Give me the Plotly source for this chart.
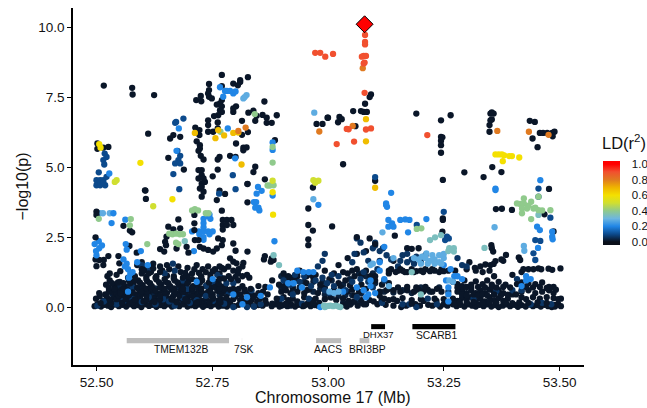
import plotly.graph_objects as go

# Regional association values: (position as read in Mb, -log10 p)
lead_pos = [53.087]
lead_logp = [10.10]

# The positions below were read against a first estimate of the tick spacing;
# these two constants carry them onto the ticks as measured afterwards.
READ_SCALE = 0.9883
READ_SHIFT = -0.0013

r2_levels = {"black": 0.012, "ink": 0.03, "deep": 0.065, "navy": 0.1, "blue": 0.2, "sky": 0.28, "teal": 0.34, "green": 0.4,
             "lime": 0.5, "yellow": 0.6, "amber": 0.68, "orange": 0.8, "red": 0.9}

navy_low = [(52.503,0.05),(52.517,0.2),(52.545,0.1),(52.56,0.22),(52.58,0.3),(52.6,0.18),(52.615,0.35),(52.63,0.1),(52.647,0.28),(52.66,0.2),(52.672,0.05),(52.69,0.33),(52.705,0.15),(52.72,0.25),(52.74,0.4),(52.755,0.22),(52.78,0.12),(52.8,0.0),(52.83,0.0),(52.845,0.02),(52.86,0.1),(52.905,0.3),(52.93,0.45),(52.95,0.12),(52.965,0.3),
(52.57,1.05),(52.58,0.7),(52.6,1.5),(52.615,1.35),(52.65,1.2),(52.668,1.55),(52.672,1.3),(52.69,0.95),(52.7,0.65),(52.72,0.95),(52.74,0.75),(52.755,0.9),(52.765,1.15),(52.773,1.05),(52.785,0.85),(52.79,0.5),(52.8,0.85),(52.84,0.6),
(52.91,0.95),(52.925,0.8),(52.935,1.15),(52.945,0.9),(52.955,1.1),(52.97,0.75),(52.98,0.95),(52.995,1.05),(53.005,0.85),(53.015,1.15),(52.985,1.45),(52.995,1.65),(53.0,1.9),(53.01,0.5),(53.0,0.6),(53.02,0.75),(53.03,1.1),(53.045,0.6),(53.06,0.9),(53.07,0.35),(53.078,1.0),(53.085,1.25),(53.095,0.9),(53.105,0.7),(53.115,1.35),(53.13,0.95),(53.06,1.6),(53.065,1.9),(53.07,2.45),(53.078,2.3),(53.085,1.95),(53.095,1.65),(53.105,2.1),(53.11,2.3),(53.11,2.2),(53.12,2.0),(53.127,2.1),(53.135,1.85),(53.12,1.65),(53.145,1.7),(53.16,1.45),(53.17,1.85),(53.18,1.9),(53.19,1.7),(53.2,1.8),(53.21,1.6),(53.22,1.85),(53.165,1.65),(53.18,1.6),(53.195,1.55),(53.21,1.75),(53.125,0.15),(53.17,0.1),(53.185,0.1),(53.2,0.0),(53.225,0.3),(53.245,0.1),(53.27,0.55),(53.29,1.75),(53.3,1.5),(53.31,1.45),(53.325,0.3),(53.375,0.55),(53.41,0.6),(53.42,1.0),(53.43,0.6),(53.45,0.1),(53.475,0.15),(53.495,0.1)]

blue_low = [(52.497,2.25),(52.5,2.0),(52.507,2.1),(52.513,2.2),(52.501,1.85),(52.506,2.35),(52.56,1.7),(52.567,1.55),(52.57,1.35),(52.575,1.2),(52.572,1.05),(52.58,1.25),(52.563,1.45),(52.565,2.25),(52.567,2.05),(52.59,1.6),(52.598,2.0),(52.57,0.55),(52.613,1.5),
(52.714,2.0),(52.72,0.9),(52.755,1.0),(52.8,0.45),(52.82,0.1),(52.83,0.35),(52.86,0.4),(52.89,2.35),(52.88,0.7),(52.94,1.3),(52.953,1.25),(52.965,1.25),(52.975,1.25),(52.92,0.85),(52.932,0.85),(52.95,0.7),(52.99,0.0),(53.04,0.55),
(53.07,0.7),(53.085,0.6),(53.09,0.35),(53.1,0.75),(53.095,0.45),(53.1,0.95),(53.11,0.5),(53.13,1.0),(53.12,1.3),(53.13,2.15),(53.12,1.6),(53.27,0.2),(53.265,0.95),(53.27,0.7),(53.27,0.45),(53.275,1.35),(53.283,1.1),(53.29,1.1),(53.3,1.0),(53.43,0.75),(53.44,0.95),(53.45,1.0),(53.44,1.1),(53.26,1.5),
(52.71,2.7),(52.725,2.7),(52.735,2.7),(52.745,2.7),(52.755,2.7),(52.735,2.85),(52.735,3.0),(52.735,3.15),(52.735,2.5),(52.735,2.4),(52.744,3.25),(52.748,3.3),(52.75,3.15),(52.726,2.6),(52.748,2.6)]

sky_low = [(52.508,3.35),(52.515,3.35),(52.53,3.35),(53.195,1.75),(53.205,1.7),(53.212,1.8),(53.22,1.75),(53.23,1.65),(53.24,1.7),(53.25,1.6),(53.26,1.75),(53.21,1.55),(53.225,1.55),(53.24,1.55),(53.255,1.55),(53.235,1.85),(53.25,1.85),(53.222,1.92),(53.26,1.9),(53.15,1.75),(53.14,0.75),(53.01,0.55),(53.02,0.5),(53.03,0.55),(53.272,0.95),(53.28,0.9),(53.1,1.5),(53.105,1.55)]

teal_low = [(53.0,0.0),(52.998,0.05),(53.002,0.02),(53.007,0.04),(53.012,0.05),(53.018,0.03),(53.024,0.05),(53.03,0.02),(53.034,0.0),(53.21,0.45),(53.19,1.25),(52.694,2.35),(52.888,1.85),(52.9,1.5),(53.27,2.0),(53.272,2.1)]

ink_fill = [(52.512,0.12),(52.522,0.18),(52.545,0.2),(52.568,0.12),(52.592,0.14),(52.616,0.13),(52.64,0.14),(52.652,0.2),(52.664,0.12),(52.688,0.14),(52.712,0.13),(52.736,0.12),(52.76,0.14),(52.784,0.13),
(52.537,0.45),(52.56,0.47),(52.59,0.4),(52.625,0.45),(52.652,0.42),(52.67,0.44),(52.7,0.45),(52.727,0.43),(52.74,0.47),(52.77,0.42),
(52.55,0.7),(52.57,0.72),(52.6,0.7),(52.63,0.67),(52.66,0.72),(52.68,0.7),(52.72,0.7),(52.75,0.68),(52.78,0.72),
(52.905,0.05),(52.925,0.05),(52.94,0.14),(52.965,0.14),(52.985,0.05),(53.04,0.15),(53.06,0.16),(53.075,0.15),
(52.905,0.7),(52.915,0.75),(52.93,0.65),(52.945,0.7),(52.96,0.6),(52.975,0.55),(52.99,0.65),(53.0,0.45),(53.015,0.35),(53.03,0.4),(53.045,0.42),(53.06,0.42),(53.08,0.48),(53.04,0.8),(53.055,1.0),(53.015,0.95),(52.995,0.9),(52.975,0.9),(52.955,0.9),(52.935,0.95),(52.915,1.05),(52.905,1.1),(53.09,1.1),(53.075,1.2),(53.105,1.2),(53.11,0.85),
(53.13,0.55),(53.15,0.52),(53.17,0.6),(53.19,0.5),(53.21,0.7),(53.23,0.55),(53.25,0.7)]

black_fill = [(52.51,0.14),(52.533,0.14),(52.557,0.15),(52.58,0.18),(52.604,0.2),(52.628,0.18),(52.676,0.17),(52.7,0.2),(52.724,0.18),(52.748,0.17),(52.772,0.16),
(52.53,0.27),(52.545,0.28),(52.565,0.28),(52.585,0.27),(52.61,0.28),(52.64,0.28),(52.665,0.27),(52.695,0.28),(52.72,0.16),(52.755,0.3),(52.785,0.35),(52.805,0.38),(52.82,0.32),(52.835,0.32),(52.845,0.35),(52.858,0.3),(52.87,0.25),(52.885,0.12),(52.895,0.3),
(52.523,0.42),(52.55,0.4),(52.572,0.42),(52.6,0.47),(52.61,0.42),(52.64,0.4),(52.682,0.4),(52.71,0.4),(52.752,0.4),
(52.528,0.55),(52.542,0.62),(52.553,0.5),(52.568,0.6),(52.58,0.52),(52.6,0.56),(52.612,0.55),(52.63,0.58),(52.65,0.55),(52.672,0.55),(52.69,0.55),(52.71,0.58),(52.73,0.56),(52.75,0.55),(52.77,0.58),(52.78,0.62),(52.793,0.62),(52.8,0.65),(52.812,0.65),(52.825,0.62),(52.838,0.65),
(52.528,0.68),(52.54,0.65),(52.56,0.66),(52.59,0.68),(52.61,0.66),(52.62,0.7),(52.64,0.7),(52.65,0.66),(52.67,0.67),(52.69,0.66),(52.71,0.68),(52.73,0.66),(52.76,0.72),(52.77,0.66),
(52.535,0.85),(52.548,0.88),(52.575,0.85),(52.596,0.87),(52.618,0.85),(52.638,0.88),(52.658,0.85),(52.678,0.88),(52.7,0.85),(52.727,0.87),(52.747,0.88),(52.768,0.85),
(52.56,0.85),(52.585,0.95),(52.61,1.0),(52.63,1.05),(52.65,1.0),(52.67,1.02),(52.69,1.05),(52.71,1.0),(52.73,1.02),(52.75,1.02),(52.77,1.0),(52.78,1.02),(52.795,1.0),(52.805,1.08),(52.6,1.35),(52.605,1.3),(52.615,1.2),(52.625,1.38),(52.64,1.25),(52.66,1.35),(52.695,1.22),(52.715,1.35),(52.725,1.22),(52.755,1.28),(52.8,1.3),(52.812,1.35),(52.82,1.45),(52.77,1.45),
(52.915,0.12),(52.955,0.05),(52.975,0.15),(53.05,0.12),(53.085,0.1),
(53.285,0.12),(53.295,0.18),(53.31,0.15),(53.325,0.18),(53.345,0.15),(53.36,0.18),(53.375,0.15),(53.395,0.17),(53.41,0.14),(53.425,0.17),(53.445,0.15),(53.465,0.17),(53.485,0.15),(53.51,0.1),(53.516,0.03),(53.516,0.3),(53.51,0.28),
(53.3,0.45),(53.31,0.42),(53.325,0.45),(53.335,0.42),(53.345,0.45),(53.355,0.42),(53.37,0.45),(53.385,0.42),(53.4,0.44),(53.29,0.7),(53.3,0.75),(53.31,0.72),(53.32,0.7),(53.335,0.72),(53.35,0.7),(53.365,0.72),(53.375,0.7),(53.39,0.72),(53.405,0.7),(53.418,0.45),(53.42,0.82),(53.44,0.72),(53.455,0.7),(53.47,0.72),(53.485,0.68),(53.505,0.62),
(53.13,0.3),(53.15,0.28),(53.17,0.32),(53.19,0.12),(53.21,0.28),(53.24,0.3),(53.26,0.28),(53.12,0.4),(53.14,0.65),(53.16,0.7),(53.18,0.72),(53.2,0.7),(53.22,0.72),(53.14,1.3),(53.165,1.35),(53.155,1.25),(53.175,1.25),(53.195,1.25),(53.215,1.25),(53.235,1.35),(53.255,1.35)]

black_rows = [
(52.497,0.03),(52.503,0.1),(52.511,0.02),(52.518,0.08),(52.526,0.05),(52.533,0.0),(52.541,0.09),(52.55,0.03),(52.558,0.08),(52.566,0.02),(52.574,0.1),(52.583,0.03),(52.59,0.07),(52.599,0.0),(52.607,0.1),(52.616,0.04),(52.624,0.08),(52.632,0.01),(52.641,0.07),(52.649,0.03),(52.657,0.1),(52.666,0.02),(52.674,0.08),(52.682,0.03),(52.691,0.1),(52.7,0.02),(52.708,0.06),(52.717,0.03),(52.725,0.09),(52.734,0.01),(52.742,0.07),(52.751,0.03),(52.759,0.1),(52.768,0.02),(52.777,0.05),(52.786,0.02),(52.794,0.09),(52.803,0.03),(52.812,0.08),(52.82,0.2),(52.829,0.05),(52.838,0.1),(52.846,0.02),(52.855,0.07),(52.864,0.05),(52.872,0.12),(52.884,0.03),(52.892,0.1),(52.901,0.02),(52.909,0.07),(52.918,0.03),(52.926,0.1),(52.935,0.02),(52.943,0.08),(52.952,0.03),(52.96,0.1),(52.969,0.03),(52.978,0.07),
(52.988,0.15),(53.04,0.07),(53.048,0.02),(53.056,0.09),(53.064,0.2),(53.072,0.05),(53.08,0.25),(53.09,0.1),(53.098,0.25),(53.107,0.2),(53.115,0.1),(53.124,0.22),(53.133,0.08),(53.14,0.25),(53.15,0.05),(53.158,0.22),(53.167,0.0),(53.178,0.05),(53.19,0.25),(53.198,0.1),(53.208,0.05),(53.216,0.22),(53.226,0.08),(53.235,0.05),(53.244,0.22),(53.252,0.02),(53.26,0.1),(53.268,0.05),(53.28,0.1),(53.288,0.03),(53.296,0.08),(53.305,0.02),(53.313,0.1),(53.322,0.05),(53.33,0.02),(53.338,0.08),(53.347,0.03),(53.355,0.1),(53.364,0.02),(53.372,0.07),(53.38,0.0),(53.389,0.05),(53.397,0.1),(53.405,0.03),(53.414,0.08),(53.422,0.01),(53.43,0.07),(53.439,0.02),(53.447,0.09),(53.455,0.03),(53.464,0.07),(53.472,0.02),(53.48,0.08),(53.488,0.03),(53.496,0.0),(53.503,0.08),(53.503,0.02),
(52.5,0.3),(52.508,0.38),(52.516,0.22),(52.524,0.32),(52.532,0.25),(52.54,0.35),(52.548,0.2),(52.556,0.3),(52.564,0.38),(52.572,0.22),(52.58,0.35),(52.588,0.25),(52.596,0.32),(52.604,0.2),(52.612,0.37),(52.62,0.25),(52.628,0.33),(52.636,0.2),(52.644,0.35),(52.652,0.25),(52.66,0.3),(52.668,0.37),(52.676,0.2),(52.684,0.32),(52.692,0.24),(52.7,0.35),(52.708,0.2),(52.716,0.3),(52.724,0.38),(52.732,0.22),(52.74,0.3),(52.748,0.2),(52.756,0.32),(52.764,0.22),(52.772,0.28),(52.78,0.25),(52.79,0.22),(52.8,0.28),(52.815,0.25),(52.828,0.2),(52.84,0.25),(52.852,0.18),(52.9,0.22),(52.91,0.35),(52.92,0.25),(52.93,0.3),(52.94,0.2),(52.955,0.35),(52.97,0.25),(52.98,0.3),(53.0,0.28),(53.012,0.35),(53.025,0.25),(53.04,0.3),(53.052,0.22),(53.065,0.42),(53.28,0.3),(53.29,0.22),(53.3,0.33),(53.31,0.25),(53.32,0.35),(53.33,0.22),(53.34,0.3),(53.35,0.2),(53.36,0.35),(53.37,0.25),(53.38,0.32),(53.39,0.22),(53.4,0.3),(53.43,0.35),(53.44,0.28),(53.455,0.35),(53.47,0.3),(53.485,0.35),(53.5,0.32),
(52.507,0.5),(52.52,0.45),(52.535,0.55),(52.545,0.48),(52.555,0.6),(52.565,0.5),(52.575,0.62),(52.585,0.45),(52.595,0.55),(52.605,0.62),(52.615,0.5),(52.625,0.6),(52.635,0.48),(52.645,0.58),(52.655,0.5),(52.665,0.62),(52.675,0.48),(52.685,0.58),(52.695,0.45),(52.705,0.6),(52.715,0.5),(52.725,0.6),(52.735,0.48),(52.745,0.55),(52.755,0.45),(52.765,0.58),(52.775,0.48),(52.785,0.55),(52.795,0.5),(52.805,0.55),(52.815,0.45),(52.825,0.55),(52.835,0.5),(52.845,0.42),(52.855,0.5),(52.865,0.55),(52.875,0.45),(52.905,0.55),(52.915,0.6),(52.925,0.5),(52.94,0.55),(52.955,0.5),(52.965,0.62),(52.985,0.5),(53.0,0.7),(53.02,0.62),(53.035,0.7),(53.05,0.55),(53.06,0.62),(53.075,0.55),(53.09,0.65),(53.12,0.55),(53.135,0.6),(53.15,0.6),(53.165,0.55),(53.18,0.6),(53.195,0.55),(53.205,0.62),(53.215,0.55),(53.225,0.62),(53.235,0.55),(53.245,0.65),(53.255,0.55),(53.29,0.55),(53.3,0.6),(53.31,0.5),(53.32,0.6),(53.33,0.5),(53.34,0.6),(53.35,0.5),(53.36,0.62),(53.37,0.52),(53.38,0.6),(53.39,0.5),(53.41,0.45),(53.43,0.55),(53.445,0.6),(53.46,0.5),(53.475,0.55),(53.49,0.6),(53.5,0.5),
(52.522,0.8),(52.53,0.95),(52.54,0.75),(52.552,0.9),(52.562,0.75),(52.572,0.95),(52.582,0.8),(52.592,0.95),(52.602,0.78),(52.612,0.92),(52.622,0.75),(52.632,0.98),(52.642,0.8),(52.652,0.9),(52.662,0.75),(52.672,0.95),(52.682,0.8),(52.692,0.78),(52.702,0.92),(52.712,0.75),(52.722,0.8),(52.732,0.95),(52.742,0.78),(52.752,0.72),(52.762,0.9),(52.772,0.75),(52.782,0.7),(52.81,0.95),(52.82,0.75),(52.835,1.05),(52.855,0.75),(52.87,0.72),(52.885,0.95),(52.9,0.8),(52.91,0.75),(52.92,1.0),(52.93,0.72),(52.94,1.1),(52.96,0.85),(52.975,1.05),(52.99,0.8),(53.01,1.0),(53.03,0.85),(53.045,0.95),(53.055,0.78),(53.065,1.1),(53.08,0.8),(53.11,0.95),(53.125,0.8),(53.14,0.85),(53.28,0.9),(53.29,0.82),(53.305,0.95),(53.32,0.8),(53.33,0.92),(53.345,0.82),(53.355,0.95),(53.365,0.8),(53.38,0.9),(53.395,0.8),(53.43,0.88),(53.445,0.85),(53.46,0.82),(53.475,0.88),(53.49,0.72),(53.5,0.72),
(52.525,1.1),(52.53,1.2),(52.545,1.15),(52.553,1.28),(52.585,1.1),(52.6,1.2),(52.61,1.08),(52.62,1.25),(52.632,1.1),(52.645,1.3),(52.655,1.12),(52.67,1.1),(52.685,1.25),(52.7,1.1),(52.71,1.2),(52.73,1.1),(52.74,1.25),(52.75,1.15),(52.76,1.3),(52.77,1.2),(52.78,1.35),(52.79,1.1),(52.81,1.2),(52.82,1.1),(52.83,1.15),(52.91,1.2),(52.92,1.1),(52.93,1.05),(52.945,1.3),(52.96,1.1),(52.97,1.15),(52.98,1.15),(53.0,1.3),(53.02,1.2),(53.03,1.5),(53.04,1.25),(53.05,1.2),(53.06,1.3),(53.07,1.35),(53.08,1.15),(53.09,1.3),(53.1,1.1),(53.11,1.1),(53.14,1.2),(53.145,1.35),(53.16,1.3),(53.17,1.3),(53.18,1.25),(53.19,1.35),(53.2,1.28),(53.21,1.3),(53.22,1.35),(53.23,1.28),(53.24,1.3),(53.25,1.25),(53.26,1.28),(53.27,1.3),(53.285,1.3),(53.31,1.35),(53.33,1.3),(53.345,1.25),(53.36,1.3),(53.37,1.1),(53.41,1.15),(53.43,1.25),
(52.499,1.7),(52.507,1.68),(52.517,1.68),(52.501,1.46),(52.516,1.5),(52.527,1.82),(52.549,1.82),(52.551,1.56),(52.589,1.94),(52.573,2.18),(52.59,1.5),(52.6,1.6),(52.61,1.45),(52.625,1.55),(52.64,1.45),(52.655,1.5),(52.68,1.45),(52.7,1.4),(52.72,1.5),(52.733,1.35),(52.745,1.45),(52.76,1.35),(52.775,1.4),(52.789,1.44),(52.793,1.74),(52.8,1.62),(52.807,1.56),(52.822,1.58),(52.869,1.82),(52.867,1.7),(52.884,1.74),(52.882,1.62),(52.888,1.68),(53.05,1.75),(53.07,1.9),(53.09,2.0),(53.18,2.1),(53.205,2.1),(53.19,2.08),(53.15,1.65),(53.316,1.6),(53.328,1.4),(53.34,1.45),(53.351,1.52),(53.362,1.5),(53.369,1.54),(53.39,1.65),(53.396,1.86),(53.386,1.7),(53.373,1.64),(53.424,1.77),(53.427,1.68),(53.434,1.35),(53.445,1.35),(53.456,1.35),(53.467,1.38),(53.473,1.35),(53.489,1.37),(53.497,1.33),(53.515,1.38),
]

black_upper = [(52.517,7.91),(52.579,7.83),(52.58,7.59),(52.627,7.57),(52.614,6.19),(52.503,5.84),(52.503,5.65),(52.516,5.69),(52.527,5.72),(52.775,8.29),(52.832,8.21),(52.815,8.1),(52.815,8.04),(52.8,7.98),(52.81,7.92),(52.747,7.97),(52.747,7.75),(52.745,7.63),(52.747,7.51),(52.753,7.45),(52.729,7.54),(52.719,7.39),(52.73,7.35),(52.775,7.89),(52.775,7.39),(52.771,7.27),(52.764,7.23),(52.775,7.17),(52.771,7.03),(52.775,6.97),(52.767,6.85),(52.758,6.82),(52.806,7.17),(52.8,7.09),(52.8,6.97),(52.868,7.34),(52.833,6.94),(52.844,7.01),(52.851,6.83),(52.864,6.86),(52.848,6.65),(52.873,6.76),(52.873,6.58),(52.884,6.58),(52.895,6.85),(52.819,6.65),(52.745,6.67),(52.766,6.59),(52.717,6.41),(52.726,6.32),(52.726,6.14),(52.745,6.5),(52.745,6.26),(52.756,6.26),(52.766,6.38),(52.819,6.15),(52.832,6.25),(52.891,5.96),(52.72,5.92),(52.727,5.78),(52.727,5.66),(52.724,5.58),(52.729,5.4),(52.735,5.27),(52.806,5.84),(52.822,5.69),(52.829,5.7),(52.822,5.6),(52.77,5.36),(52.766,5.27),(52.793,5.4),(52.805,5.36),(52.658,5.33),(52.848,5.01),(52.844,4.82),(52.724,4.89),(52.731,4.89),(52.731,4.71),(52.724,4.59),(52.735,4.59),(52.731,4.41),(52.738,4.47),(52.727,4.23),(52.755,4.67),(52.766,4.91),(52.692,4.91),(52.869,4.56),(52.831,4.4),(52.607,4.17),(52.662,6.02),(52.669,6.14),(52.684,6.08),(52.982,6.54),(52.995,6.54),(53.006,6.76),(52.974,4.27),
(53.101,7.59),(53.098,7.5),(53.088,7.26),(53.079,7.0),(53.085,6.97),(53.092,6.97),(53.062,7.0),(53.067,6.46),(53.032,6.79),(53.037,6.71),(53.029,6.6),(53.007,6.76),(53.2,6.91),(53.254,6.67),(53.275,6.85),(53.254,6.08),(53.257,6.06),(53.254,5.94),(53.254,5.78),(53.254,5.51),(53.04,5.1),(53.11,4.51),(53.258,4.54),(53.305,4.81),(53.347,4.64),(53.366,5.0),(53.386,4.82),(53.365,6.95),(53.362,6.91),(53.369,6.91),(53.365,6.7),(53.362,6.67),(53.36,6.5),(53.36,6.26),(53.448,6.65),(53.459,6.61),(53.47,6.22),(53.477,6.22),(53.486,6.22),(53.497,6.22),(53.502,6.26),(53.498,6.1),(53.454,6.02),(53.465,5.71),(53.49,4.22),
(52.608,4.16),(52.609,3.86),(52.731,4.3),(52.735,4.12),(52.731,3.94),(52.764,3.82),(52.77,4.16),(52.782,4.04),(52.831,4.39),(52.831,3.74),(52.964,3.52),(52.501,3.41),(52.501,3.29),(52.775,3.44),(52.715,3.29),(52.715,2.99),(52.715,2.75),(52.68,3.13),(52.56,2.9),(52.574,2.73),(52.579,2.67),(52.658,2.87),(52.669,2.77),(52.684,2.81),(52.654,2.51),(52.651,2.33),(52.653,2.21),(52.64,2.07),(52.649,1.98),(52.716,2.39),(52.724,2.39),(52.777,3.11),(52.786,3.11),(52.796,3.11),(52.777,2.93),(52.786,2.93),(52.8,2.93),(52.777,2.77),(52.767,2.45),(52.777,2.39),(52.775,2.21),(52.727,2.15),(52.735,2.09),(52.745,2.04),(52.756,1.98),(52.764,2.09),(52.8,2.27),(52.805,2.01),(52.831,1.98),(52.964,2.93),(52.964,2.42),(52.964,2.21),(52.974,2.73),(52.499,2.49),(52.698,2.15),(52.676,2.09),(52.702,1.94),(53.016,2.88),(53.153,2.55),(53.258,3.17),(53.258,3.11),(53.257,2.69),(53.374,3.5),(53.387,3.51),(53.409,3.47),(53.48,3.31),(53.364,2.21),(53.365,2.1),(53.368,1.98),(53.5,2.7),(53.098,2.45),(53.07,2.5),(53.11,2.25)]

navy_upper = [(52.691,6.73),(52.675,6.61),(52.673,6.58),(52.678,5.58),(52.684,5.4),(52.68,5.25),(52.673,5.13),(52.684,5.13),(52.669,4.75),(52.682,4.21),(52.799,4.71),(52.506,4.81),(52.501,4.53),(52.509,4.53),(52.516,4.53),(52.523,4.65),(52.501,4.35),(52.509,4.35),(52.52,4.35),(52.516,4.44),(52.519,5.48),(52.523,5.36),(52.516,5.25),(52.518,5.09),(53.11,4.64),(53.467,4.23),(53.467,3.94),(53.493,3.19),(53.46,2.39),(53.471,2.36),(53.201,2.93),(52.805,4.21),(53.26,3.4),(53.267,2.51),(53.263,2.39),(53.271,2.45),(52.769,4.05),(53.456,1.92),(53.46,1.68)]

blue_upper = [(52.681,6.38),(52.788,6.38),(52.886,5.88),(52.886,5.61),(52.676,5.58),(52.804,5.31),(52.529,4.77),(52.854,4.29),(52.862,4.15),(53.471,4.53),(53.373,4.23),(53.373,4.18),(53.134,3.7),(53.136,3.58),(53.134,3.64),(53.145,4.08),(53.139,3.11),(53.147,2.99),(53.139,2.87),(53.15,2.87),(53.165,3.11),(53.176,3.13),(53.185,3.11),(53.222,3.14),(53.182,2.67),(53.464,2.87),(53.47,2.75),(53.497,2.69),(53.497,2.51),(53.498,2.42),(53.466,2.11),(52.771,7.85),(52.8,7.63),(52.786,7.72),(52.778,7.51),(52.793,7.72),(52.782,7.72),(52.805,7.7),(52.851,4.05),(52.845,3.75),(52.85,3.75),(52.848,3.55),(52.855,3.55),(52.857,3.45),(52.886,3.98),(52.986,3.65),(52.538,3.35),(52.534,3.0),(52.564,3.12)]

sky_upper = [(52.822,7.45),(52.829,7.57),(52.825,7.5),(52.977,6.94),(53.126,2.67),(53.371,2.85),(53.435,2.18),(53.436,2.01),(52.975,3.85)]

teal_upper = [(53.254,2.57),(53.241,2.49),(53.23,2.39),(53.467,3.29),(53.349,2.11),(53.282,2.1),(53.282,1.98)]

green_upper = [(52.847,6.89),(52.772,6.26),(52.886,5.16),(52.886,5.72),(52.88,4.34),(52.888,4.35),(52.875,4.34),(53.435,3.88),(53.427,3.68),(53.435,3.7),(53.451,3.76),(53.431,3.52),(53.442,3.52),(53.456,3.52),(53.467,3.46),(53.493,3.46),(53.431,3.35),(53.451,3.14),(53.467,3.94),(53.42,3.7),(53.445,3.62),(53.46,3.55),(53.475,3.45),(53.201,2.79),(53.211,2.81),(52.506,3.15),(52.576,3.14),(52.574,2.92),(52.71,3.45),(52.716,3.5),(52.723,3.45),(52.74,3.35),(52.746,3.35),(52.66,2.62),(52.667,2.6),(52.675,2.62),(52.683,2.6),(52.69,2.6),(52.675,2.3),(52.68,2.25),(52.612,2.25)]

lime_upper = [(52.545,4.53),(52.541,4.47),(52.886,4.51),(52.975,4.53),(52.986,4.51),(52.979,4.44),(52.625,3.6)]

yellow_upper = [(52.507,5.82),(52.51,5.69),(52.597,5.15),(53.373,5.45),(53.38,5.45),(53.387,5.45),(53.392,5.42),(53.403,5.39),(53.409,5.39),(53.425,5.34),(53.389,5.21),(52.886,4.1),(52.667,3.85),(52.887,3.3)]

amber_upper = [(52.716,6.22),(52.761,6.03),(52.78,6.13),(52.767,6.32),(52.8,6.22),(52.811,6.23),(52.818,5.09),(53.09,6.71),(53.09,5.92),(53.11,4.26)]

orange_upper = [(52.827,6.41),(52.811,6.29),(52.988,6.27),(53.061,6.47),(53.377,6.29),(53.446,6.26),(53.489,6.15),(53.083,8.53)]

red_upper = [(52.979,9.08),(52.99,9.08),(53.001,8.94),(53.018,9.04),(53.088,9.72),(53.088,9.47),(53.088,9.38),(53.085,8.97),(53.09,8.97),(53.081,8.94),(53.087,8.73),(53.085,8.7),(53.087,7.65),(53.048,6.36),(53.052,6.35),(53.026,5.82),(53.064,5.91),(53.09,6.34),(53.101,6.38),(53.224,6.14)]

gene_names = ["TMEM132B", "7SK", "AACS", "BRI3BP", "DHX37", "SCARB1"]
gene_starts = [52.565, 52.8135, 52.974, 53.068, 53.093, 53.182]
gene_ends = [52.786, 52.8145, 53.028, 53.089, 53.123, 53.275]
gene_tops = [-1.11, -1.11, -1.11, -1.11, -0.61, -0.61]
gene_bottoms = [-1.29, -1.29, -1.29, -1.29, -0.79, -0.79]
gene_colors = ["#bdbdbd", "#e8e8e8", "#bdbdbd", "#bdbdbd", "#000000", "#000000"]
gene_label_pos = [52.682, 52.818, 52.9995, 53.086, 53.109, 53.235]
gene_label_y = [-1.51, -1.51, -1.51, -1.51, -0.975, -1.025]
gene_label_size = [10.3, 10.3, 10.3, 10.3, 9.5, 10.3]

x_ticks = [52.5, 52.75, 53.0, 53.25, 53.5]
y_ticks = [0, 2.5, 5, 7.5, 10]
cbar_ticks = [0, 0.2, 0.4, 0.6, 0.8, 1.0]

color_stops = [0, 0.1, 0.2, 0.3, 0.4, 0.5, 0.6, 0.7, 0.8, 0.9, 1.0]
color_names = ["#0a0f1a", "#0c4a8c", "#2186e6", "#6db6e0", "#90ca8c", "#d0df30", "#f4e000", "#efb400", "#e07a20", "#f1502f", "#ff0000"]
C_MIN, C_MAX = -0.04, 1.04
colorscale = [[0, color_names[0]]] + [[(s - C_MIN) / (C_MAX - C_MIN), c] for s, c in zip(color_stops, color_names)] + [[1, color_names[-1]]]

groups = [("ink", ink_fill), ("black", black_rows), ("deep", navy_low), ("black", black_fill), ("blue", blue_low),
          ("sky", sky_low), ("teal", teal_low), ("black", black_upper), ("navy", navy_upper), ("blue", blue_upper),
          ("sky", sky_upper), ("teal", teal_upper), ("green", green_upper), ("lime", lime_upper),
          ("yellow", yellow_upper), ("amber", amber_upper), ("orange", orange_upper), ("red", red_upper)]


def calibrated(p):
    return 52.5 + (p - 52.5) * READ_SCALE + READ_SHIFT


pos, logp, r2 = [], [], []
for name, pts in groups:
    for p, l in pts:
        pos.append(calibrated(p))
        logp.append(l)
        r2.append(r2_levels[name])

font = "Liberation Sans"
fig = go.Figure()
fig.add_trace(go.Scatter(
    x=pos, y=logp, mode="markers", showlegend=False,
    marker=dict(size=6.3, color=r2, cmin=C_MIN, cmax=C_MAX, colorscale=colorscale, line=dict(width=0),
                colorbar=dict(thickness=17, thicknessmode="pixels", len=84, lenmode="pixels",
                              xref="container", yref="container", x=0.932, xanchor="left", y=0.431, yanchor="middle", xpad=0, ypad=0,
                              outlinewidth=0, tickvals=cbar_ticks, ticktext=["0.0", "0.2", "0.4", "0.6", "0.8", "1.0"],
                              ticks="outside", ticklen=10, tickcolor="white", tickwidth=1,
                              tickfont=dict(family=font, size=11.5, color="#111")))))
fig.add_trace(go.Scatter(x=[calibrated(p) for p in lead_pos], y=lead_logp, mode="markers", showlegend=False,
                         marker=dict(symbol="diamond", size=13, color="#ff0000", line=dict(color="black", width=1))))

for n, s, e, t, b, c in zip(gene_names, gene_starts, gene_ends, gene_tops, gene_bottoms, gene_colors):
    fig.add_shape(type="rect", x0=s, x1=e, y0=b, y1=t, fillcolor=c, line=dict(width=0), layer="below")
for n, p, y, z in zip(gene_names, gene_label_pos, gene_label_y, gene_label_size):
    fig.add_annotation(x=p, y=y, text=n, showarrow=False, font=dict(family=font, size=z, color="#111"))

fig.add_annotation(xref="paper", yref="paper", x=1.0378, y=0.59, xanchor="left", yanchor="bottom", showarrow=False,
                   xshift=-3, text="LD(r<sup>2</sup>)", font=dict(family=font, size=16.5, color="#111"))
fig.add_annotation(xref="x", yref="paper", x=53.01, y=-0.063, xanchor="center", yanchor="top", showarrow=False,
                   text="Chromosome 17 (Mb)", font=dict(family=font, size=16, color="#111"))

fig.update_layout(
    width=647, height=408, margin=dict(l=73, r=63.3, t=8, b=43, pad=0),
    paper_bgcolor="white", plot_bgcolor="white", font=dict(family=font, color="#111"),
    xaxis=dict(range=[52.449, 53.5527], tickvals=x_ticks, ticktext=["52.50", "52.75", "53.00", "53.25", "53.50"],
               showgrid=False, zeroline=False, showline=True, linecolor="black", linewidth=1.5, automargin=False,
               ticks="outside", ticklen=4, tickcolor="black", tickwidth=1.2, tickfont=dict(size=13.5)),
    yaxis=dict(range=[-2.07, 10.68], tickvals=y_ticks, ticktext=["0.0", "2.5", "5.0", "7.5", "10.0"],
               showgrid=False, zeroline=False, showline=True, linecolor="black", linewidth=1.5, automargin=False,
               ticks="outside", ticklen=4, tickcolor="black", tickwidth=1.2, tickfont=dict(size=13.5),
               title=dict(text="\u2212log10(p)", font=dict(size=16), standoff=6)),
)
fig.write_html("out.html", config=dict(displayModeBar=False),
               post_script="document.body.style.margin='0';document.body.style.overflow='hidden';")
